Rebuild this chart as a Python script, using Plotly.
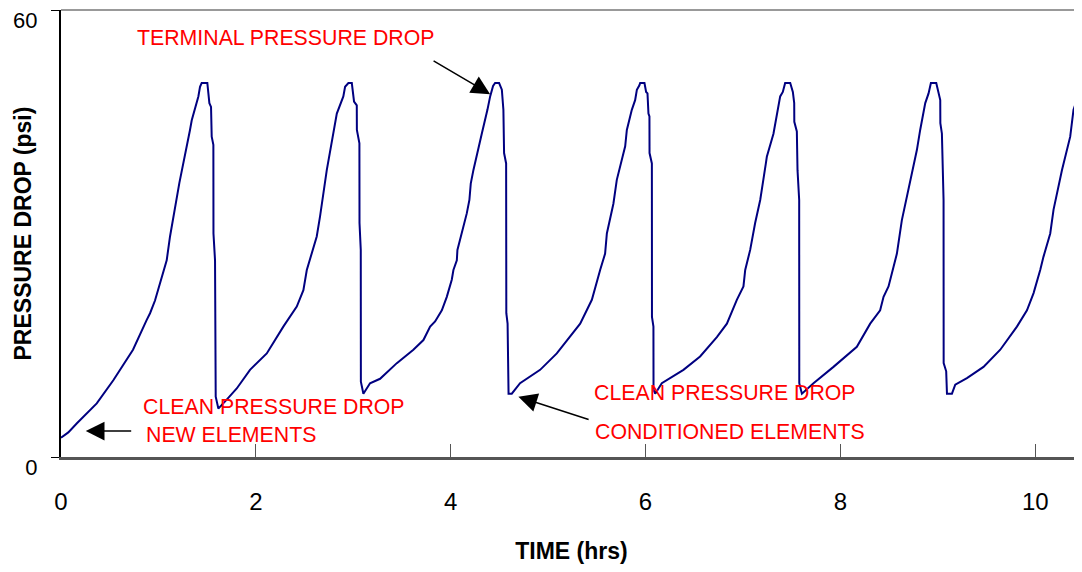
import plotly.graph_objects as go

# Time (hrs) and pressure drop (psi)
time_hrs = [
    0.000, 0.075, 0.161, 0.367, 0.537, 0.739, 0.880, 0.914, 0.965, 1.034, 1.085, 1.119, 1.181, 1.215,
    1.324, 1.342, 1.410, 1.427, 1.444, 1.502, 1.523, 1.540, 1.547, 1.564, 1.565, 1.581, 1.588, 1.615,
    1.701, 1.804, 1.940, 2.112, 2.282, 2.420, 2.488, 2.523, 2.625, 2.659, 2.728, 2.813, 2.831, 2.898,
    2.916, 2.950, 2.985, 3.008, 3.036, 3.037, 3.063, 3.064, 3.077, 3.078, 3.104,
    3.172, 3.275, 3.447, 3.617, 3.720, 3.789, 3.840, 3.909, 3.960, 4.011, 4.028, 4.063, 4.069, 4.114,
    4.165, 4.192, 4.206, 4.233, 4.284, 4.319, 4.377, 4.405, 4.435, 4.456, 4.497, 4.525, 4.541, 4.548,
    4.569, 4.570, 4.571, 4.584, 4.594, 4.627,
    4.712, 4.918, 5.089, 5.329, 5.449, 5.534, 5.585, 5.603, 5.670, 5.705, 5.739, 5.791, 5.808, 5.859,
    5.893, 5.911, 5.937, 5.945, 5.989, 6.006, 6.020, 6.030, 6.040, 6.041, 6.065, 6.066, 6.081, 6.082,
    6.099,
    6.167, 6.389, 6.560, 6.732, 6.835, 6.937, 7.005, 7.023, 7.074, 7.125, 7.177, 7.235, 7.245, 7.313,
    7.364, 7.382, 7.409, 7.433, 7.485, 7.512, 7.526, 7.527, 7.553, 7.560, 7.577, 7.578, 7.605,
    7.724, 7.929, 8.169, 8.306, 8.408, 8.443, 8.494, 8.545, 8.580, 8.631, 8.683, 8.785, 8.819, 8.853,
    8.871, 8.905, 8.929, 8.984, 9.007, 9.025, 9.026, 9.042, 9.059, 9.060, 9.086, 9.094, 9.145,
    9.179, 9.299, 9.469, 9.641, 9.812, 9.915, 9.983, 10.051, 10.085, 10.154, 10.188, 10.274, 10.359,
    10.393, 10.428, 10.480, 10.520,
]
pressure_psi = [
    2.6, 3.3, 4.5, 7.2, 10.3, 14.4, 18.4, 19.3, 21.0, 24.2, 26.4, 29.6, 34.1, 36.8,
    43.9, 45.2, 48.4, 49.7, 50.2, 50.2, 47.5, 47.0, 43.0, 41.9, 30.0, 26.4, 8.1, 6.5,
    7.7, 9.2, 11.7, 13.9, 17.5, 20.2, 22.4, 25.1, 29.6, 32.3, 38.5, 44.8, 46.1, 48.4,
    49.7, 50.2, 50.2, 47.7, 47.2, 43.9, 42.1, 31.4, 27.8, 10.1, 8.5,
    9.9, 10.5, 12.6, 14.4, 15.7, 17.5, 18.2, 19.7, 21.5, 23.8, 25.1, 26.4, 27.8, 30.0,
    32.7, 34.5, 36.7, 38.5, 41.2, 43.4, 46.6, 48.4, 49.8, 50.2, 50.2, 49.3, 46.6, 40.8,
    39.4, 34.5, 19.3, 17.9, 8.5, 8.5,
    9.9, 11.7, 13.9, 17.9, 21.1, 25.1, 27.3, 30.0, 34.0, 37.2, 39.0, 41.7, 43.9, 46.6,
    47.9, 49.3, 49.9, 50.2, 50.2, 49.0, 48.8, 46.1, 45.7, 40.8, 39.4, 18.8, 17.5, 9.0,
    8.5,
    9.9, 11.7, 13.5, 16.1, 17.9, 21.1, 22.9, 25.1, 27.8, 31.4, 34.5, 39.4, 40.3, 43.4,
    47.0, 48.4, 49.0, 50.2, 50.2, 49.0, 47.5, 45.0, 43.7, 38.5, 34.5, 9.9, 8.5,
    9.9, 12.1, 14.8, 17.9, 19.7, 21.5, 22.9, 25.5, 27.3, 31.8, 34.9, 41.2, 43.9, 46.6,
    47.5, 48.8, 50.2, 50.2, 48.8, 47.9, 44.8, 43.4, 34.5, 12.6, 11.5, 8.5, 8.5,
    9.7, 10.6, 12.1, 14.4, 17.5, 19.7, 22.0, 25.1, 26.9, 30.0, 33.2, 38.5, 43.0,
    46.6, 47.9, 49.9, 50.2,
]

x_ticks = [0, 2, 4, 6, 8, 10]
y_ticks = [0, 60]

FONT = "Liberation Sans, Arial, sans-serif"
RED = "#FF0000"

# page body has an 8px margin, so the figure is sized to fill the rest of the window
W, H = 1074, 556
ML, MT, MB, MR = 53, 2, 107, 0
PW = W - ML - MR

fig = go.Figure()
fig.add_trace(go.Scatter(
    x=time_hrs, y=pressure_psi, mode="lines",
    line=dict(color="#000080", width=2),
    hoverinfo="skip", showlegend=False,
))

annos = [
    dict(x=2.30, y=56.2, text="TERMINAL PRESSURE DROP", xanchor="center", yanchor="middle"),
    dict(x=0.821, y=6.75, text="CLEAN PRESSURE DROP", xanchor="left", yanchor="middle"),
    dict(x=0.855, y=2.95, text="NEW ELEMENTS", xanchor="left", yanchor="middle"),
    dict(x=5.449, y=8.55, text="CLEAN PRESSURE DROP", xanchor="left", yanchor="middle"),
    dict(x=5.465, y=3.40, text="CONDITIONED ELEMENTS", xanchor="left", yanchor="middle"),
]
for a in annos:
    fig.add_annotation(xref="x", yref="y", showarrow=False,
                       font=dict(family=FONT, size=21.3, color=RED), **a)

arrows = [
    ((4.405, 48.7), (3.809, 53.3)),
    ((0.254, 3.49), (0.736, 3.49)),
    ((4.695, 8.09), (5.431, 4.97)),
]
for (tx, ty), (sx, sy) in arrows:
    fig.add_annotation(x=tx, y=ty, ax=sx, ay=sy, xref="x", yref="y",
                       axref="x", ayref="y", text="", showarrow=True,
                       arrowhead=2, arrowsize=2.5, arrowwidth=1.5, arrowcolor="black")

# y-axis title placed as rotated text over the tick-label column
fig.add_annotation(xref="paper", yref="paper", x=(14 - ML) / PW, y=0.5,
                   xanchor="center", yanchor="middle", showarrow=False, textangle=-90,
                   text="<b>PRESSURE DROP (psi)</b>",
                   font=dict(family=FONT, size=23, color="black"))

fig.add_shape(type="line", xref="paper", yref="paper", x0=0, x1=1, y0=1, y1=1,
              line=dict(color="#999999", width=2))

fig.update_layout(
    width=W, height=H,
    margin=dict(l=ML, r=MR, t=MT, b=MB),
    paper_bgcolor="white", plot_bgcolor="white",
    font=dict(family=FONT, color="black"),
    xaxis=dict(
        range=[0, 10.48], tickvals=x_ticks, ticktext=[str(v) for v in x_ticks],
        showgrid=False, zeroline=False, automargin=False,
        showline=True, linecolor="#555555", linewidth=2.5,
        ticks="inside", ticklen=13, tickwidth=1, tickcolor="#555555",
        tickfont=dict(size=24, family=FONT), ticklabelstandoff=21,
        title=dict(text="<b>TIME (hrs)</b>", font=dict(size=23, family=FONT), standoff=33),
    ),
    yaxis=dict(
        range=[0, 60], tickvals=y_ticks, ticktext=[str(v) for v in y_ticks],
        showgrid=False, zeroline=False, automargin=False,
        showline=True, linecolor="black", linewidth=2,
        ticks="outside", ticklen=8, tickwidth=1, tickcolor="black",
        tickfont=dict(size=22, family=FONT), ticklabelshift=10, ticklabelstandoff=9,
        ticklabeloverflow="allow",
    ),
)

fig.write_html("out.html")
